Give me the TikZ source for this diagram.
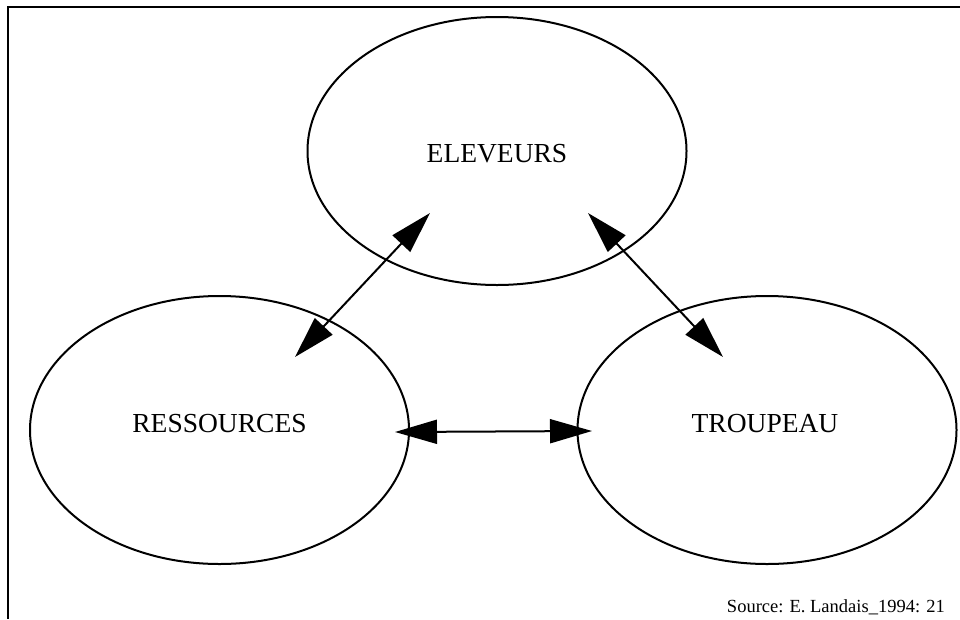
\documentclass[tikz,border=0pt]{standalone}
\usepackage{fontspec}
\setmainfont{Liberation Serif}
\usetikzlibrary{shapes.geometric,arrows.meta}
\begin{document}
\begin{tikzpicture}[x=1pt,y=-1pt,
  blob/.style={draw,ellipse,line width=2pt,minimum width=379pt,minimum height=268pt,inner sep=0pt},
  lbl/.style={font=\fontsize{27.5}{30}\selectfont,inner sep=0pt,anchor=base},
  link/.style={line width=2pt,{Triangle[length=42pt,width=24pt]}-{Triangle[length=42pt,width=24pt]}},
  frame/.style={line width=2.2pt}]
\useasboundingbox (0,0) rectangle (960,619);
\draw[frame] (960,7) -- (8,7) -- (8,619);
\node[blob] (ele) at (497,151) {};
\node[blob] (res) at (219.5,430) {};
\node[blob] (tro) at (767,430) {};
\node[lbl] (eletxt) at (497,162) {ELEVEURS};
\node[lbl] (restxt) at (219.5,432) {RESSOURCES};
\node[lbl] (trotxt) at (765,432) {TROUPEAU};
\coordinate (a1) at (295,357);
\coordinate (a2) at (430,213);
\coordinate (b1) at (588,213);
\coordinate (b2) at (723,357);
\coordinate (c1) at (395,432);
\coordinate (c2) at (592,431);
\draw[link] (a1) -- (a2);
\draw[link] (b1) -- (b2);
\draw[link] (c1) -- (c2);
\node[font=\fontsize{18.5}{20}\selectfont,inner sep=0pt,anchor=base east] (src) at (945,612) {Source: E. Landais\_1994: 21};
\end{tikzpicture}
\end{document}
